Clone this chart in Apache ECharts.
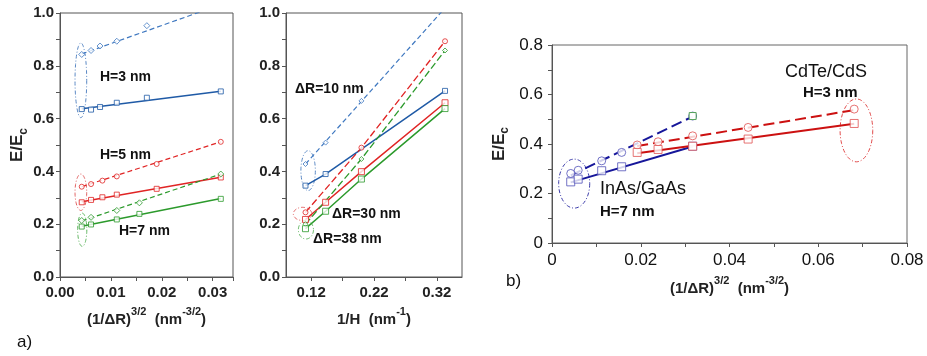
<!DOCTYPE html>
<html><head><meta charset="utf-8">
<script src="https://cdn.jsdelivr.net/npm/echarts@6/dist/echarts.min.js"></script>
<style>html,body{margin:0;padding:0;background:#fff}#c{width:927px;height:356px}</style>
</head><body><div id="c"></div>
<script>
// ---------- DATA ----------
// Panel a (left): x = (1/ΔR)^(3/2)
const h3DashX = [0.00427, 0.0061, 0.00787, 0.01116, 0.01707];
const h3DashY = [0.843, 0.858, 0.875, 0.893, 0.952];
const h3DashFit = [[0.00427, 0.845], [0.0316, 1.032]];
const h3SolX = [0.00427, 0.0061, 0.00787, 0.01116, 0.01707, 0.0316];
const h3SolY = [0.636, 0.634, 0.644, 0.660, 0.679, 0.703];
const h3SolFit = [[0.00427, 0.637], [0.0316, 0.704]];
const h5X = [0.00427, 0.0061, 0.00833, 0.01116, 0.0190, 0.0316];
const h5DashY = [0.342, 0.352, 0.365, 0.381, 0.428, 0.512];
const h5DashFit = [[0.00427, 0.342], [0.0316, 0.512]];
const h5SolY = [0.283, 0.292, 0.302, 0.312, 0.334, 0.377];
const h5SolFit = [[0.00427, 0.285], [0.0316, 0.378]];
const h7X = [0.00427, 0.0061, 0.01116, 0.0156, 0.0316];
const h7DashY = [0.214, 0.226, 0.252, 0.281, 0.390];
const h7DashFit = [[0.00427, 0.212], [0.0316, 0.390]];
const h7SolY = [0.191, 0.199, 0.218, 0.239, 0.296];
const h7SolFit = [[0.00427, 0.192], [0.0316, 0.297]];
// Panel a (right): x = 1/H
const r10DashX = [0.111, 0.143, 0.2];
const r10DashY = [0.428, 0.509, 0.667];
const r10DashFit = [[0.111, 0.428], [0.333, 1.019]];
const r10SolX = [0.111, 0.143, 0.333];
const r10SolY = [0.346, 0.390, 0.705];
const r30DashX = [0.111, 0.2, 0.333];
const r30DashY = [0.245, 0.490, 0.893];
const r30SolX = [0.111, 0.143, 0.2, 0.333];
const r30SolY = [0.218, 0.283, 0.399, 0.660];
const r38DashX = [0.111, 0.2, 0.333];
const r38DashY = [0.200, 0.447, 0.858];
const r38SolX = [0.111, 0.143, 0.2, 0.333];
const r38SolY = [0.183, 0.249, 0.371, 0.638];
// Panel b
const inasX = [0.00422, 0.0059, 0.0112, 0.0157, 0.0317];
const inasDashY = [0.281, 0.294, 0.332, 0.366, 0.513];
const inasDashFit = [[0.00422, 0.273], [0.0317, 0.511]];
const inasEndMark = [[0.0317, 0.513]];
const inasSolY = [0.247, 0.258, 0.292, 0.308, 0.391];
const inasSolFit = [[0.00422, 0.245], [0.0317, 0.390]];
const cdteX = [0.0192, 0.0239, 0.0317, 0.0442, 0.0681];
const cdteDashY = [0.396, 0.409, 0.433, 0.467, 0.541];
const cdteDashFit = [[0.0192, 0.392], [0.0681, 0.537]];
const cdteSolY = [0.366, 0.378, 0.391, 0.420, 0.483];
const cdteSolFit = [[0.0192, 0.363], [0.0681, 0.482]];
// Ellipses [cx, cy, rx, ry] in data units
const ellLeft = [[0.0041, 0.745, 0.00115, 0.1415], [0.0041, 0.321, 0.00115, 0.069], [0.00437, 0.179, 0.0009, 0.063]];
const ellRight = [[0.1152, 0.403, 0.0115, 0.0755], [0.1064, 0.239, 0.0147, 0.025], [0.1117, 0.179, 0.012, 0.035]];
const ellB = [[0.0050, 0.240, 0.0035, 0.099], [0.0686, 0.455, 0.00368, 0.127]];
// Tick values
const rightXLabels = [0.12, 0.22, 0.32];
const rightXTicks = [0.12, 0.17, 0.22, 0.27, 0.32];

// ---------- CHART ----------
const F = '"Liberation Sans", Arial, sans-serif';
const BLUE = '#1f5aa6', BLUE2 = '#3f78c0', RED = '#e02424', GREEN = '#2c9a2c';
const NAVY = '#16169a', BRED = '#cc1111';
const pts = (xs, ys) => xs.map((x, i) => [x, ys[i]]);

function scat(i, data, color, sym, size) {
  return {type: 'scatter', xAxisIndex: i, yAxisIndex: i, data, symbol: sym, symbolSize: size,
    itemStyle: {color: '#fff', borderColor: color, borderWidth: 1}, z: 5, silent: true};
}
function ln(i, data, color, dash, w) {
  return {type: 'line', xAxisIndex: i, yAxisIndex: i, data, symbol: 'none', clip: true,
    lineStyle: {color, width: w, type: dash ? dash : 'solid'}, z: 4, silent: true};
}
function ell(i, e, color) {
  return {type: 'custom', xAxisIndex: i, yAxisIndex: i, data: [e], silent: true, z: 3,
    encode: {x: 0, y: 1},
    renderItem(params, api) {
      const c = api.coord([api.value(0), api.value(1)]);
      const s = api.size([api.value(2), api.value(3)]);
      const p = [];
      for (let k = 0; k < 72; k++) {
        const t = k / 72 * Math.PI * 2;
        p.push([c[0] + s[0] * Math.cos(t), c[1] + s[1] * Math.sin(t)]);
      }
      return {type: 'polygon', shape: {points: p},
        style: {fill: 'none', stroke: color, lineWidth: 1, lineDash: [4, 2, 1, 2]}};
    }};
}

const axA = {color: '#222', fontFamily: F, fontWeight: 'bold', fontSize: 15};
const axB = {color: '#111', fontFamily: F, fontSize: 17};
const lineA = {show: true, lineStyle: {color: '#555', width: 1}};
const tickA = {show: true, inside: false, length: 4, lineStyle: {color: '#555'}};
const minorA = {show: true, splitNumber: 2, length: 4, lineStyle: {color: '#555'}};
const supRich = {
  b: {fontFamily: F, fontWeight: 'bold', fontSize: 15, color: '#222', lineHeight: 22, verticalAlign: 'bottom'},
  s: {fontFamily: F, fontWeight: 'bold', fontSize: 11, color: '#222', lineHeight: 22, verticalAlign: 'top', padding: [2, 0, 0, 0]},
  c: {fontFamily: F, fontWeight: 'bold', fontSize: 12, color: '#222', lineHeight: 22, verticalAlign: 'bottom', padding: [0, 0, -3, 0]},
  B: {fontFamily: F, fontWeight: 'bold', fontSize: 17, color: '#222', lineHeight: 22, verticalAlign: 'bottom'}
};

const option = {
  animation: false,
  grid: [
    {left: 60, top: 13, width: 173, height: 264, show: true, borderColor: '#555', borderWidth: 1},
    {left: 286, top: 13, width: 176, height: 264, show: true, borderColor: '#555', borderWidth: 1},
    {left: 552, top: 45, width: 355, height: 198, show: true, borderColor: '#666', borderWidth: 1}
  ],
  xAxis: [
    {gridIndex: 0, type: 'value', min: 0, max: 0.034, interval: 0.01, axisLine: lineA, axisTick: tickA, minorTick: minorA,
      splitLine: {show: false}, axisLabel: Object.assign({margin: 8, formatter: v => v.toFixed(2), showMaxLabel: false}, axA),
      name: '{b|(1/ΔR)}{s|3/2}{b|  (nm}{s|-3/2}{b|)}', nameLocation: 'middle', nameGap: 21, nameTextStyle: {rich: supRich}},
    {gridIndex: 1, type: 'value', min: 0.08, max: 0.36, axisLine: lineA,
      axisTick: Object.assign({}, tickA, {customValues: rightXTicks}),
      splitLine: {show: false}, axisLabel: Object.assign({margin: 8, customValues: rightXLabels, formatter: v => v.toFixed(2)}, axA),
      name: '{b|1/H  (nm}{s|-1}{b|)}', nameLocation: 'middle', nameGap: 21, nameTextStyle: {rich: supRich}},
    {gridIndex: 2, type: 'value', min: 0, max: 0.08, interval: 0.02, axisLine: {show: true, lineStyle: {color: '#555'}},
      axisTick: tickA, minorTick: minorA, splitLine: {show: false},
      axisLabel: Object.assign({margin: 9, formatter: v => v === 0 ? '0' : v.toFixed(2)}, axB),
      name: '{b|(1/ΔR)}{s|3/2}{b|  (nm}{s|-3/2}{b|)}', nameLocation: 'middle', nameGap: 28, nameTextStyle: {rich: supRich}}
  ],
  yAxis: [
    {gridIndex: 0, type: 'value', min: 0, max: 1, interval: 0.2, axisLine: lineA, axisTick: tickA, minorTick: minorA,
      splitLine: {show: false}, axisLabel: Object.assign({margin: 6, formatter: v => v.toFixed(1)}, axA),
      name: '{B|E/E}{c|c}', nameLocation: 'middle', nameGap: 30, nameRotate: 90, nameTextStyle: {rich: supRich}},
    {gridIndex: 1, type: 'value', min: 0, max: 1, interval: 0.2, axisLine: lineA, axisTick: tickA, minorTick: minorA,
      splitLine: {show: false}, axisLabel: Object.assign({margin: 6, formatter: v => v.toFixed(1)}, axA)},
    {gridIndex: 2, type: 'value', min: 0, max: 0.8, interval: 0.2, axisLine: {show: true, lineStyle: {color: '#555'}},
      axisTick: tickA, minorTick: minorA, splitLine: {show: false},
      axisLabel: Object.assign({margin: 9, formatter: v => v === 0 ? '0' : v.toFixed(1)}, axB),
      name: '{B|E/E}{c|c}', nameLocation: 'middle', nameGap: 44, nameRotate: 90, nameTextStyle: {rich: supRich}}
  ],
  series: [
    // left panel
    ln(0, h3DashFit, BLUE2, [5, 3], 1.2), scat(0, pts(h3DashX, h3DashY), BLUE2, 'diamond', 6),
    ln(0, h3SolFit, BLUE, null, 1.5), scat(0, pts(h3SolX, h3SolY), BLUE, 'rect', 5),
    ln(0, h5DashFit, RED, [5, 3], 1.2), scat(0, pts(h5X, h5DashY), RED, 'circle', 5),
    ln(0, h5SolFit, RED, null, 1.5), scat(0, pts(h5X, h5SolY), RED, 'rect', 5),
    ln(0, h7DashFit, GREEN, [5, 3], 1.2), scat(0, pts(h7X, h7DashY), GREEN, 'diamond', 6),
    ln(0, h7SolFit, GREEN, null, 1.5), scat(0, pts(h7X, h7SolY), GREEN, 'rect', 5),
    ell(0, ellLeft[0], '#5a88c4'), ell(0, ellLeft[1], '#e06060'), ell(0, ellLeft[2], '#5cb35c'),
    // right panel
    ln(1, r10DashFit, BLUE2, [5, 3], 1.2), scat(1, pts(r10DashX, r10DashY), BLUE2, 'diamond', 5),
    ln(1, pts(r10SolX, r10SolY), BLUE, null, 1.5), scat(1, pts(r10SolX, r10SolY), BLUE, 'rect', 5),
    ln(1, pts(r30DashX, r30DashY), RED, [7, 3], 1.3), scat(1, pts(r30DashX, r30DashY), RED, 'circle', 5),
    ln(1, pts(r30SolX, r30SolY), RED, null, 1.5), scat(1, pts(r30SolX, r30SolY), RED, 'rect', 6),
    ln(1, pts(r38DashX, r38DashY), GREEN, [7, 3], 1.3), scat(1, pts(r38DashX, r38DashY), GREEN, 'diamond', 5),
    ln(1, pts(r38SolX, r38SolY), GREEN, null, 1.5), scat(1, pts(r38SolX, r38SolY), GREEN, 'rect', 6),
    ell(1, ellRight[0], '#5a88c4'), ell(1, ellRight[1], '#e06060'), ell(1, ellRight[2], '#5cb35c'),
    // panel b
    ln(2, inasDashFit, NAVY, [11, 5], 2), scat(2, pts(inasX, inasDashY), '#5050b8', 'circle', 8),
    scat(2, inasEndMark, '#3a9a3a', 'rect', 7),
    ln(2, inasSolFit, NAVY, null, 2), scat(2, pts(inasX, inasSolY), '#5050b8', 'rect', 8),
    ln(2, cdteDashFit, BRED, [11, 5], 2), scat(2, pts(cdteX, cdteDashY), '#e05050', 'circle', 8),
    ln(2, cdteSolFit, BRED, null, 2), scat(2, pts(cdteX, cdteSolY), '#e05050', 'rect', 8),
    ell(2, ellB[0], '#3a3aa8'), ell(2, ellB[1], '#e04848')
  ],
  graphic: [
    {type: 'text', left: 100, top: 70, style: {text: 'H=3 nm', font: 'bold 14px ' + F, fill: '#111'}},
    {type: 'text', left: 100, top: 148, style: {text: 'H=5 nm', font: 'bold 14px ' + F, fill: '#111'}},
    {type: 'text', left: 119, top: 224, style: {text: 'H=7 nm', font: 'bold 14px ' + F, fill: '#111'}},
    {type: 'text', left: 295, top: 82, style: {text: 'ΔR=10 nm', font: 'bold 14px ' + F, fill: '#111'}},
    {type: 'text', left: 332, top: 207, style: {text: 'ΔR=30 nm', font: 'bold 14px ' + F, fill: '#111'}},
    {type: 'text', left: 313, top: 232, style: {text: 'ΔR=38 nm', font: 'bold 14px ' + F, fill: '#111'}},
    {type: 'text', left: 785, top: 63, style: {text: 'CdTe/CdS', font: '18px ' + F, fill: '#111'}},
    {type: 'text', left: 803, top: 85, style: {text: 'H=3 nm', font: 'bold 15px ' + F, fill: '#111'}},
    {type: 'text', left: 600, top: 180, style: {text: 'InAs/GaAs', font: '18px ' + F, fill: '#111'}},
    {type: 'text', left: 600, top: 204, style: {text: 'H=7 nm', font: 'bold 15px ' + F, fill: '#111'}},
    {type: 'text', left: 17, top: 334, style: {text: 'a)', font: '17px ' + F, fill: '#111'}},
    {type: 'text', left: 506, top: 273, style: {text: 'b)', font: '17px ' + F, fill: '#111'}}
  ]
};
const chart = echarts.init(document.getElementById('c'), null, {renderer: 'canvas'});
chart.setOption(option);
</script></body></html>
